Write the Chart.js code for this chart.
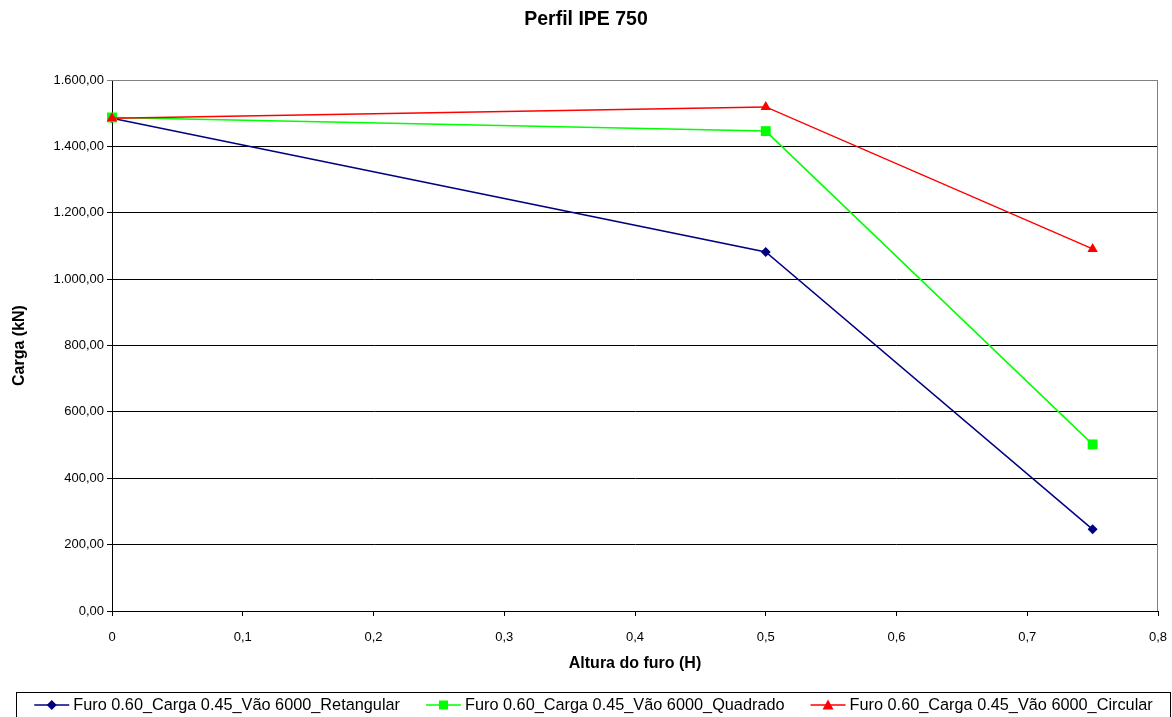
<!DOCTYPE html>
<html>
<head>
<meta charset="utf-8">
<title>Perfil IPE 750</title>
<script src="https://cdn.jsdelivr.net/npm/chart.js@4/dist/chart.umd.min.js"></script>
<style>
    html, body { margin: 0; padding: 0; background: #fff; }
    #wrap { width: 1172px; height: 717px; }
</style>
</head>
<body>
<div id="wrap"><canvas id="chart" width="1172" height="717"></canvas></div>
<script>
// altura do furo (H) e carga (kN) por tipo de furo
const alturas = [0, 0.5, 0.75];
const retangular = [1485, 1082, 246];
const quadrado = [1487, 1446, 502];
const circular = [1485, 1519, 1091];

const nomes = [
    "Furo 0.60_Carga 0.45_Vão 6000_Retangular",
    "Furo 0.60_Carga 0.45_Vão 6000_Quadrado",
    "Furo 0.60_Carga 0.45_Vão 6000_Circular"
];
const cores = ["#000080", "#00FF00", "#FF0000"];
const marcadores = ["rectRot", "rect", "triangle"];
const raios = [5, 7, 6];

const FONT = "Arial, 'Liberation Sans', sans-serif";

function pontos(valores) {
    return alturas.map((x, i) => ({ x: x, y: valores[i] }));
}

// 1600 -> "1.600,00"
function formatoCarga(v) {
    const partes = v.toFixed(2).split(".");
    return partes[0].replace(/\B(?=(\d{3})+(?!\d))/g, ".") + "," + partes[1];
}

function marcador(g, estilo, x, y) {
    g.beginPath();
    if (estilo === "rectRot") {
        g.moveTo(x, y - 5); g.lineTo(x + 5, y); g.lineTo(x, y + 5); g.lineTo(x - 5, y);
    } else if (estilo === "rect") {
        g.rect(x - 4.5, y - 4.5, 9, 9);
    } else {
        g.moveTo(x, y - 5.5); g.lineTo(x + 5.5, y + 4.5); g.lineTo(x - 5.5, y + 4.5);
    }
    g.closePath();
    g.fill();
}

// plot frame (top/right in gray) and the boxed legend under the axis
const moldura = {
    id: "moldura",
    beforeDatasetsDraw(chart) {
        const a = chart.chartArea;
        const ctx = chart.ctx;
        ctx.save();
        ctx.strokeStyle = "#808080";
        ctx.lineWidth = 1;
        ctx.beginPath();
        ctx.moveTo(a.left, a.top + 0.5);
        ctx.lineTo(a.right - 0.5, a.top + 0.5);
        ctx.lineTo(a.right - 0.5, a.bottom);
        ctx.stroke();
        ctx.restore();
    },
    afterDraw(chart) {
        const ctx = chart.ctx;
        const caixa = { left: 16, top: 692, right: 1171 };
        const linha = 35, espaco = 4, intervalo = 26, yTexto = 705;
        ctx.save();
        ctx.strokeStyle = "#000";
        ctx.lineWidth = 1;
        ctx.strokeRect(caixa.left + 0.5, caixa.top + 0.5, caixa.right - caixa.left - 1, 40);
        ctx.font = "16.3px " + FONT;
        ctx.textBaseline = "middle";
        ctx.textAlign = "left";
        const larguras = chart.data.datasets.map(ds => ctx.measureText(ds.label).width);
        const total = larguras.reduce((s, w) => s + w + linha + espaco, 0) + intervalo * (larguras.length - 1);
        let x = (caixa.left + caixa.right) / 2 - total / 2;
        chart.data.datasets.forEach((ds, i) => {
            ctx.strokeStyle = ds.borderColor;
            ctx.fillStyle = ds.borderColor;
            ctx.lineWidth = 1.5;
            ctx.beginPath();
            ctx.moveTo(x, yTexto);
            ctx.lineTo(x + linha, yTexto);
            ctx.stroke();
            marcador(ctx, marcadores[i], x + linha / 2, yTexto);
            ctx.fillStyle = "#000";
            ctx.fillText(ds.label, x + linha + espaco, yTexto + 1);
            x += linha + espaco + larguras[i] + intervalo;
        });
        ctx.restore();
    }
};

const datasets = [retangular, quadrado, circular].map((valores, i) => ({
    label: nomes[i],
    data: pontos(valores),
    borderColor: cores[i],
    backgroundColor: cores[i],
    borderWidth: 1.5,
    pointStyle: marcadores[i],
    pointRadius: raios[i],
    pointBorderWidth: 0,
    tension: 0,
    clip: false,
    order: 3 - i
}));

new Chart(document.getElementById("chart"), {
    type: "line",
    data: { datasets: datasets },
    plugins: [moldura],
    options: {
        responsive: false,
        animation: false,
        layout: { padding: { left: 0, right: 0, top: 0, bottom: 36 } },
        plugins: {
            title: {
                display: true,
                text: "Perfil IPE 750",
                color: "#000",
                font: { family: FONT, size: 19.5, weight: "bold" },
                padding: { top: 8, bottom: 48.6 }
            },
            legend: { display: false },
            tooltip: { enabled: false }
        },
        scales: {
            x: {
                type: "linear",
                min: 0,
                max: 0.8,
                ticks: {
                    stepSize: 0.1,
                    color: "#000",
                    font: { family: FONT, size: 13 },
                    padding: 14,
                    maxRotation: 0,
                    callback: v => String(Math.round(v * 10) / 10).replace(".", ",")
                },
                grid: {
                    drawOnChartArea: false,
                    drawTicks: true,
                    tickLength: 5,
                    color: "#000"
                },
                border: { color: "#000", width: 1 },
                title: {
                    display: true,
                    text: "Altura do furo (H)",
                    color: "#000",
                    font: { family: FONT, size: 16, weight: "bold" },
                    padding: { top: 4, bottom: 7.4 }
                },
                afterFit(scale) {
                    scale.height = 70;
                    scale.paddingRight = 14;
                }
            },
            y: {
                min: 0,
                max: 1600,
                ticks: {
                    stepSize: 200,
                    color: "#000",
                    font: { family: FONT, size: 13 },
                    padding: 3,
                    callback: v => formatoCarga(v)
                },
                grid: {
                    color: ctx => (ctx.tick && ctx.tick.value === 1600 ? "#808080" : "#000"),
                    tickLength: 5,
                    lineWidth: 1
                },
                border: { color: "#000", width: 1 },
                title: {
                    display: true,
                    text: "Carga (kN)",
                    color: "#000",
                    font: { family: FONT, size: 16, weight: "bold" },
                    padding: { top: 10.4, bottom: 0 }
                },
                afterFit(scale) { scale.width = 112; }
            }
        }
    }
});
</script>
</body>
</html>
